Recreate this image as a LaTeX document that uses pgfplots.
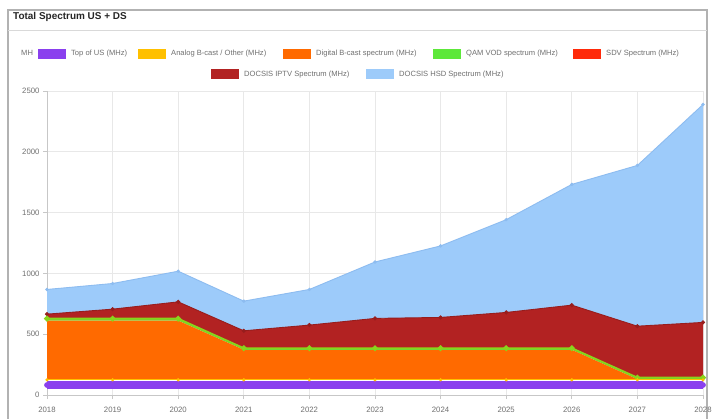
\documentclass[border=0pt]{standalone}
\usepackage{pgfplots}
\pgfplotsset{compat=1.18}
\usepackage{pgfplotstable}
\usepackage{fontspec}
\setmainfont{Liberation Sans}

\definecolor{cpurple}{HTML}{8A40EE}
\definecolor{cyellow}{HTML}{FFC000}
\definecolor{corange}{HTML}{FF6A00}
\definecolor{cgreen}{HTML}{5DE83A}
\definecolor{cgreenline}{HTML}{88D41C}
\definecolor{cred}{HTML}{FF2A0A}
\definecolor{cdarkred}{HTML}{B22222}
\definecolor{cblue}{HTML}{9DCBFA}
\definecolor{cblueline}{HTML}{8DBCF0}
\definecolor{ctick}{HTML}{707070}

% cumulative (stacked) tops of each series, MHz
\pgfplotstableread{
year topus analog digital qam sdv iptv hsd
2018 82 125 612 628 628 665 868
2019 82 125 612 628 628 706 917
2020 82 125 612 628 628 766 1018
2021 82 125 372 385 385 528 772
2022 82 125 372 385 385 575 868
2023 82 125 372 385 385 630 1094
2024 82 125 372 385 385 638 1226
2025 82 125 372 385 385 679 1442
2026 82 125 372 385 385 739 1732
2027 82 125 130 143 143 566 1888
2028 82 125 130 143 143 597 2389
}\data

\newcommand{\legitem}[4]{%
  \fill[#3] (#1bp,#2bp-5bp) rectangle (#1bp+28bp,#2bp+5bp);
  \node[anchor=west, inner sep=0pt, text=ctick, font=\fontsize{7.6}{9}\selectfont] at (#1bp+33bp,#2bp) {#4};%
}

\pgfplotsset{
  common/.style={
    at={(47bp,24bp)}, anchor=south west,
    scale only axis, width=656bp, height=304bp,
    xmin=2018, xmax=2028, ymin=0, ymax=2500,
    xtick={2018,...,2028}, ytick={0,500,...,2500},
  }
}

\begin{document}
\begin{tikzpicture}
\useasboundingbox (0,0) rectangle (718bp,419bp);
\fill[white] (0,0) rectangle (718bp,419bp);
% panel frame
\draw[black!30, line width=1.2bp] (8bp,-10bp) -- (8bp,409bp) -- (707bp,409bp) -- (707bp,-10bp);
\draw[black!15, line width=0.8bp] (8bp,389bp) -- (707bp,389bp);
\node[anchor=west, inner sep=0pt, text=black!85, font=\fontsize{10}{12}\selectfont\bfseries] at (13bp,402bp) {Total Spectrum US + DS};

% legend
\node[anchor=west, inner sep=0pt, text=ctick, font=\fontsize{7.6}{9}\selectfont] at (21bp,366.5bp) {MH};
\legitem{38}{365}{cpurple}{Top of US (MHz)}
\legitem{138}{365}{cyellow}{Analog B-cast / Other (MHz)}
\legitem{283}{365}{corange}{Digital B-cast spectrum (MHz)}
\legitem{433}{365}{cgreen}{QAM VOD spectrum (MHz)}
\legitem{573}{365}{cred}{SDV Spectrum (MHz)}
\legitem{211}{344.5}{cdarkred}{DOCSIS IPTV Spectrum (MHz)}
\legitem{366}{344.5}{cblue}{DOCSIS HSD Spectrum (MHz)}

% stacked areas
\begin{axis}[
  common,
  stack plots=y,
  /pgf/number format/1000 sep={},
  /pgf/number format/assume math mode=true,
  axis lines*=left,
  axis line style={black!22, line width=0.8bp},
  grid=major, grid style={black!9, line width=0.6bp},
  tick align=outside, major tick length=4bp,
  tick style={black!22, line width=0.6bp},
  ticklabel style={text=ctick, font=\fontsize{7.8}{9}\selectfont},
  xticklabel style={yshift=-5bp},
]
\addplot[draw=none] table[x=year,y=analog]{\data};
\addplot[draw=none, fill=corange] table[x=year,y expr=\thisrow{digital}-\thisrow{analog}]{\data} \closedcycle;
\addplot[draw=none, fill=cgreen] table[x=year,y expr=\thisrow{qam}-\thisrow{digital}]{\data} \closedcycle;
\addplot[draw=none, fill=cred] table[x=year,y expr=\thisrow{sdv}-\thisrow{qam}]{\data} \closedcycle;
\addplot[draw=none, fill=cdarkred] table[x=year,y expr=\thisrow{iptv}-\thisrow{sdv}]{\data} \closedcycle;
\addplot[draw=none, fill=cblue] table[x=year,y expr=\thisrow{hsd}-\thisrow{iptv}]{\data} \closedcycle;
\end{axis}

% edges and points
\begin{axis}[common, hide axis, clip=false]
\addplot[cblueline, line width=0.9bp, mark=*, mark size=1.2bp, mark options={fill=cblueline, draw=cblueline}] table[x=year,y=hsd]{\data};
\addplot[cdarkred!85!black, line width=0.9bp, mark=*, mark size=1.6bp, mark options={fill=cdarkred!85!black}] table[x=year,y=iptv]{\data};
\addplot[cred, line width=0.8bp] table[x=year,y=sdv]{\data};
\addplot[cgreenline, line width=1.8bp, mark=*, mark size=1.9bp, mark options={fill=cgreenline!80!yellow, draw=cgreenline}] table[x=year,y=qam]{\data};
\addplot[cyellow, line width=0.8bp, mark=*, mark size=1.2bp, mark options={fill=cyellow}] table[x=year,y=analog]{\data};
\addplot[cpurple, line width=8bp, line cap=butt, mark=*, mark size=2.6bp, mark options={fill=cpurple, draw=cpurple, line width=0.4bp}] table[x=year,y=topus]{\data};
\end{axis}
\end{tikzpicture}
\end{document}
